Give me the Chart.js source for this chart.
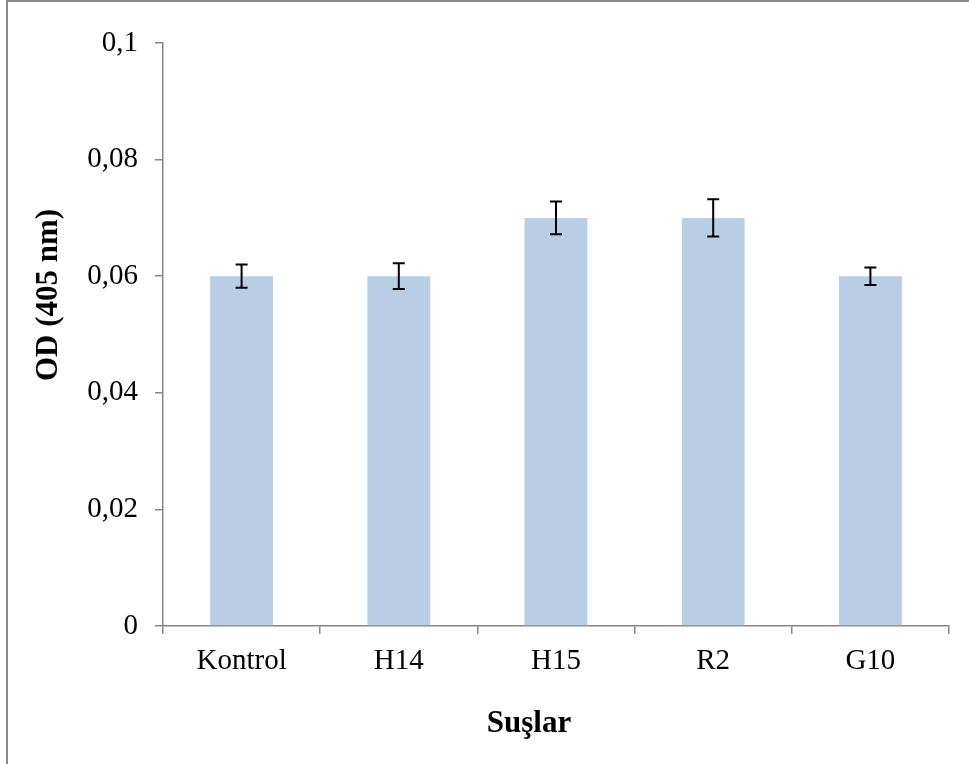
<!DOCTYPE html>
<html>
<head>
<meta charset="utf-8">
<script src="https://cdn.jsdelivr.net/npm/chart.js@4"></script>
<style>
  html, body { margin: 0; padding: 0; background: #fff; overflow: hidden; }
  #wrap { position: relative; width: 969px; height: 764px; }
  #frame { position: absolute; left: 6px; top: 0px; width: 1000px; height: 800px;
           border: 2px solid #8a8a8a; box-sizing: border-box; pointer-events: none; }
  canvas { position: absolute; left: 0; top: 0; }
</style>
</head>
<body>
<div id="wrap">
  <canvas id="c" width="969" height="764"></canvas>
  <div id="frame"></div>
</div>
<script>
// Strains and measured optical density at 405 nm
const categories = ['Kontrol', 'H14', 'H15', 'R2', 'G10'];
const odValues = [0.06, 0.06, 0.07, 0.07, 0.06];
const odErrors = [0.002, 0.0022, 0.0028, 0.0032, 0.0015];
const yTickLabels = ['0', '0,02', '0,04', '0,06', '0,08', '0,1'];

const FONT = "'Liberation Serif', 'Times New Roman', serif";
const AXIS_GRAY = '#868686';

// Draws symmetric error bars through the y scale
const errorBars = {
  id: 'errorBars',
  afterDatasetsDraw(chart) {
    const ctx = chart.ctx;
    const meta = chart.getDatasetMeta(0);
    const y = chart.scales.y;
    ctx.save();
    ctx.strokeStyle = '#000';
    ctx.lineWidth = 2;
    meta.data.forEach((bar, i) => {
      const v = odValues[i], e = odErrors[i];
      const top = y.getPixelForValue(v + e);
      const bot = y.getPixelForValue(v - e);
      const x = bar.x;
      const cap = 6;
      ctx.beginPath();
      ctx.moveTo(x, top); ctx.lineTo(x, bot);
      ctx.moveTo(x - cap, top); ctx.lineTo(x + cap, top);
      ctx.moveTo(x - cap, bot); ctx.lineTo(x + cap, bot);
      ctx.stroke();
    });
    ctx.restore();
  }
};

// Axis titles placed in the surrounding margins
const axisTitles = {
  id: 'axisTitles',
  afterDraw(chart) {
    const ctx = chart.ctx;
    ctx.save();
    ctx.fillStyle = '#000';
    ctx.font = "bold 31px " + FONT;
    ctx.textAlign = 'center';
    ctx.textBaseline = 'middle';
    ctx.fillText('Suşlar', 529, 724);
    ctx.translate(49, 295);
    ctx.rotate(-Math.PI / 2);
    ctx.fillText('OD (405 nm)', 0, 0);
    ctx.restore();
  }
};

new Chart(document.getElementById('c'), {
  type: 'bar',
  data: {
    labels: categories,
    datasets: [{
      data: odValues,
      backgroundColor: '#B9CDE5',
      borderWidth: 0,
      barPercentage: 0.4,
      categoryPercentage: 1.0
    }]
  },
  options: {
    responsive: false,
    animation: false,
    devicePixelRatio: 1,
    layout: { padding: { left: 0, top: 43, right: 20, bottom: 0 } },
    plugins: { legend: { display: false }, tooltip: { enabled: false } },
    scales: {
      x: {
        offset: true,
        grid: { display: true, offset: true, drawOnChartArea: false, drawTicks: true,
                tickLength: 8, color: AXIS_GRAY, lineWidth: 1.5 },
        border: { display: true, color: AXIS_GRAY, width: 1.5 },
        ticks: { color: '#000', font: { family: FONT, size: 29 }, padding: 10, maxRotation: 0 },
        afterFit(scale) { scale.height = 138; }
      },
      y: {
        min: 0, max: 0.1,
        ticks: {
          stepSize: 0.02,
          color: '#000',
          font: { family: FONT, size: 29 },
          padding: 17,
          callback: (v, i) => yTickLabels[i]
        },
        grid: { display: true, drawOnChartArea: false, drawTicks: true,
                tickLength: 8, color: AXIS_GRAY, lineWidth: 1.5 },
        border: { display: true, color: AXIS_GRAY, width: 1.5 },
        afterFit(scale) { scale.width = 163; }
      }
    }
  },
  plugins: [errorBars, axisTitles]
});
</script>
</body>
</html>
